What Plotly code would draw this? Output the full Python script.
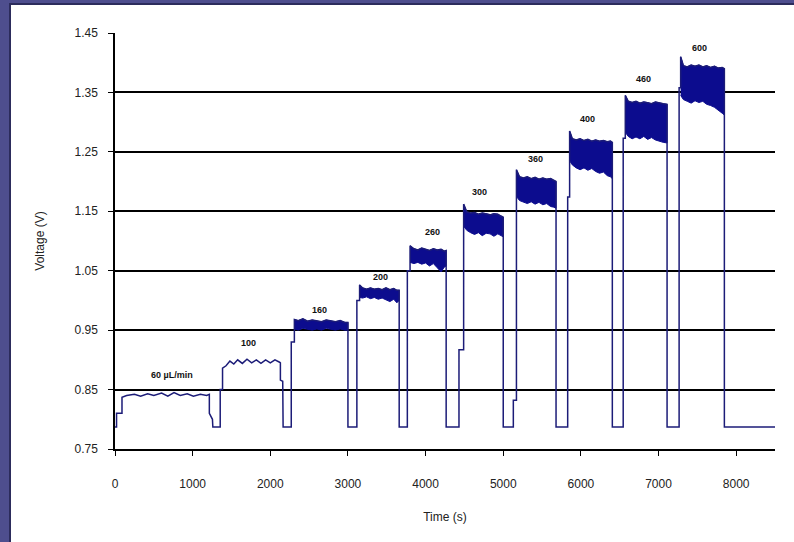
import plotly.graph_objects as go

BASE_V = 0.787  # resting voltage between injections

# ---- low-flow part of the trace (60 and 100 uL/min), read as a line ----
lead_t = [0, 20, 20, 90, 90, 150, 250, 330, 420, 500, 600, 680, 760, 840, 930, 1010,
          1100, 1180, 1215, 1215, 1255, 1260, 1355, 1355, 1385, 1385, 1430, 1480, 1530,
          1580, 1640, 1700, 1760, 1820, 1880, 1940, 2000, 2060, 2120, 2130, 2130, 2160,
          2165, 2270]
lead_v = [0.787, 0.787, 0.810, 0.810, 0.837, 0.840, 0.842, 0.839, 0.843, 0.840, 0.844,
          0.839, 0.845, 0.840, 0.843, 0.839, 0.842, 0.840, 0.842, 0.810, 0.800, 0.787,
          0.787, 0.850, 0.850, 0.886, 0.890, 0.898, 0.893, 0.900, 0.894, 0.901, 0.895,
          0.900, 0.894, 0.900, 0.895, 0.900, 0.896, 0.895, 0.866, 0.864, 0.787, 0.787]

# ---- higher-flow plateaus, read as noisy bands (upper / lower envelope) ----
band_t = [
    [2310, 2360, 2420, 2480, 2540, 2600, 2660, 2720, 2780, 2840, 2900, 2960, 3000],
    [3150, 3190, 3240, 3290, 3340, 3390, 3440, 3490, 3540, 3590, 3630, 3660],
    [3800, 3850, 3900, 3950, 4000, 4050, 4100, 4150, 4200, 4240, 4265],
    [4490, 4530, 4580, 4630, 4680, 4730, 4780, 4830, 4880, 4930, 4970, 5000],
    [5170, 5210, 5260, 5310, 5360, 5410, 5460, 5510, 5560, 5610, 5650, 5680],
    [5855, 5890, 5940, 5990, 6040, 6090, 6140, 6190, 6240, 6290, 6340, 6380, 6405],
    [6572, 6610, 6660, 6710, 6760, 6810, 6860, 6910, 6960, 7010, 7060, 7110],
    [7285, 7320, 7370, 7420, 7470, 7520, 7570, 7620, 7670, 7720, 7770, 7820, 7848],
]
band_upper = [
    [0.968, 0.966, 0.969, 0.965, 0.967, 0.966, 0.964, 0.967, 0.965, 0.964, 0.966, 0.963, 0.963],
    [1.026, 1.021, 1.019, 1.021, 1.019, 1.020, 1.018, 1.021, 1.018, 1.020, 1.017, 1.017],
    [1.092, 1.087, 1.085, 1.088, 1.086, 1.084, 1.087, 1.085, 1.086, 1.083, 1.084],
    [1.162, 1.149, 1.147, 1.148, 1.145, 1.147, 1.146, 1.144, 1.146, 1.145, 1.142, 1.140],
    [1.220, 1.208, 1.206, 1.208, 1.205, 1.207, 1.204, 1.206, 1.204, 1.205, 1.202, 1.200],
    [1.285, 1.272, 1.270, 1.272, 1.269, 1.271, 1.268, 1.270, 1.268, 1.269, 1.267, 1.268, 1.266],
    [1.345, 1.335, 1.333, 1.335, 1.332, 1.334, 1.333, 1.331, 1.334, 1.332, 1.331, 1.330],
    [1.410, 1.395, 1.393, 1.396, 1.394, 1.396, 1.393, 1.395, 1.392, 1.394, 1.391, 1.392, 1.390],
]
band_lower = [
    [0.952, 0.950, 0.953, 0.951, 0.950, 0.952, 0.950, 0.953, 0.951, 0.950, 0.952, 0.950, 0.950],
    [1.005, 1.004, 1.006, 1.003, 1.005, 1.002, 1.004, 1.001, 0.998, 1.002, 0.996, 1.000],
    [1.064, 1.062, 1.064, 1.061, 1.063, 1.058, 1.062, 1.055, 1.048, 1.056, 1.058],
    [1.125, 1.118, 1.114, 1.111, 1.114, 1.109, 1.113, 1.112, 1.108, 1.112, 1.109, 1.107],
    [1.175, 1.168, 1.166, 1.163, 1.166, 1.162, 1.165, 1.161, 1.163, 1.158, 1.157, 1.155],
    [1.235, 1.228, 1.223, 1.220, 1.223, 1.219, 1.222, 1.217, 1.214, 1.216, 1.210, 1.208, 1.205],
    [1.283, 1.276, 1.272, 1.275, 1.272, 1.276, 1.271, 1.274, 1.270, 1.268, 1.266, 1.265],
    [1.345, 1.338, 1.335, 1.332, 1.336, 1.333, 1.335, 1.330, 1.328, 1.325, 1.320, 1.315, 1.312],
]
rise_t = [2270, 3115, 3765, 4430, 5130, 5830, 6545, 7265]
rise_step_v = [0.930, 1.000, 1.050, 0.917, 0.832, 1.174, 1.273, 1.358]
end_t = 8500

# ---- flow-rate labels ----
label_text = ["60 µL/min", "100", "160", "200", "260", "300", "360", "400", "460", "600"]
label_t = [735, 1714, 2640, 3415, 4085, 4690, 5410, 6080, 6800, 7525]
label_v = [0.875, 0.928, 0.984, 1.040, 1.115, 1.183, 1.238, 1.305, 1.373, 1.425]

# ---- axis ticks ----
x_ticks = [0, 1000, 2000, 3000, 4000, 5000, 6000, 7000, 8000]
y_ticks = [0.75, 0.85, 0.95, 1.05, 1.15, 1.25, 1.35, 1.45]

LINE_C = "#1c1c78"
FILL_C = "#0c0c8e"

# build the outline of the trace
out_t = list(lead_t)
out_v = list(lead_v)
for i in range(len(band_t)):
    out_t += [rise_t[i], rise_t[i], band_t[i][0]]
    out_v += [BASE_V, rise_step_v[i], rise_step_v[i]]
    out_t += band_t[i]
    out_v += band_upper[i]
    out_t += [band_t[i][-1], band_t[i][-1]]
    out_v += [band_lower[i][-1], BASE_V]
out_t.append(end_t)
out_v.append(BASE_V)

fig = go.Figure()
for i in range(len(band_t)):
    poly_t = band_t[i] + band_t[i][::-1]
    poly_v = band_upper[i] + band_lower[i][::-1]
    fig.add_trace(go.Scatter(x=poly_t, y=poly_v, mode="lines", fill="toself",
                             fillcolor=FILL_C, line=dict(color=FILL_C, width=1),
                             hoverinfo="skip", showlegend=False))
fig.add_trace(go.Scatter(x=out_t, y=out_v, mode="lines",
                         line=dict(color=LINE_C, width=1.5), showlegend=False))

for txt, t, v in zip(label_text, label_t, label_v):
    fig.add_annotation(x=t, y=v, text=f"<b>{txt}</b>", showarrow=False,
                       font=dict(family="Liberation Sans, Arial", size=9, color="#111111"))

# white slide area over the slate frame
fig.add_shape(type="rect", xref="paper", yref="paper",
              x0=(10 - 115) / 660, x1=1.1, y0=-0.3, y1=(449 - 4) / 416,
              fillcolor="white", line=dict(color="#2c2c5c", width=2), layer="below")

font = dict(family="Liberation Sans, Arial", size=12, color="#222222")
fig.update_layout(
    width=794, height=542,
    margin=dict(l=115, r=19, t=33, b=93),
    paper_bgcolor="#4e4e8e",
    plot_bgcolor="rgba(0,0,0,0)",
    font=font,
    showlegend=False,
    xaxis=dict(range=[0, 8500], tickvals=x_ticks, ticks="outside", ticklen=5,
               tickcolor="black", showline=True, linecolor="black", linewidth=1.5,
               showgrid=False, zeroline=False, ticklabelstandoff=18,
               title=dict(text="Time (s)", standoff=22, font=font)),
    yaxis=dict(range=[0.75, 1.45], tickvals=y_ticks, tickformat=".2f",
               ticks="outside", ticklen=5, tickcolor="black",
               showline=True, linecolor="black", linewidth=1.5,
               showgrid=True, gridcolor="black", gridwidth=1.5, zeroline=False,
               ticklabelstandoff=8,
               title=dict(text="Voltage (V)", standoff=27, font=font)),
)

fig.write_html("out.html", config={"displayModeBar": False},
               post_script="document.body.style.margin='0';")
